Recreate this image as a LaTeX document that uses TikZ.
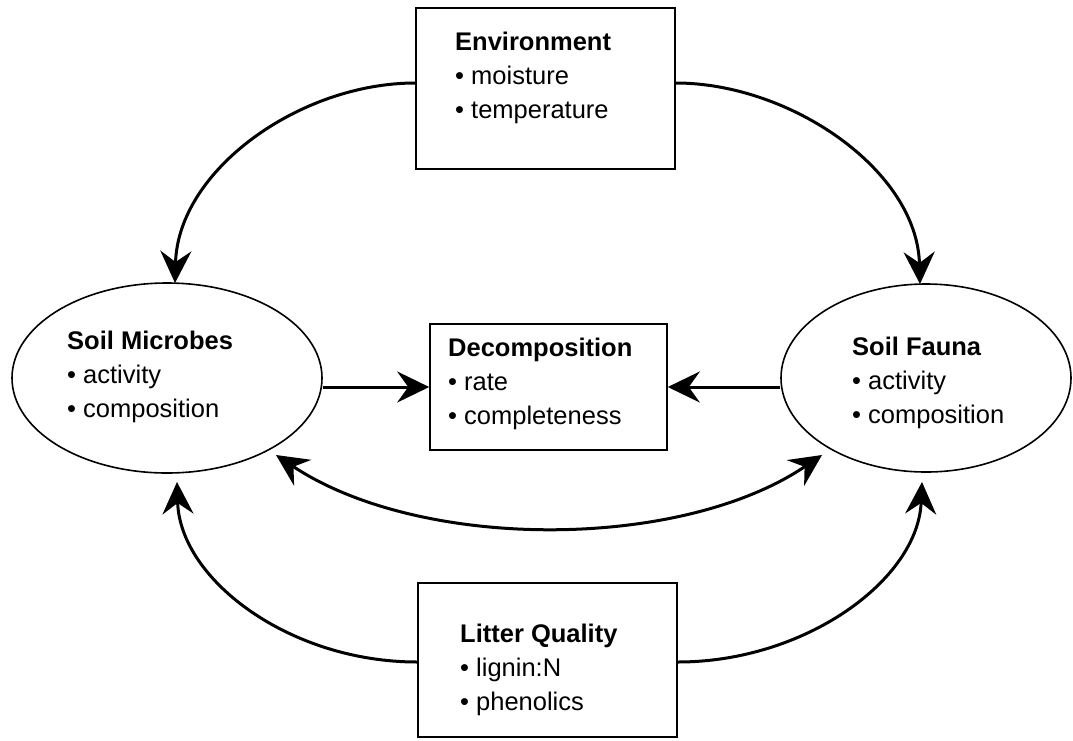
\documentclass[tikz,border=0pt]{standalone}
\usepackage{fontspec}
\setmainfont{Liberation Sans}
\usetikzlibrary{arrows.meta,calc,shapes.geometric}
\begin{document}
\begin{tikzpicture}[x=1pt,y=-1pt,
  box/.style={draw, line width=1.6pt, rectangle, inner sep=0pt},
  oval/.style={draw, line width=1.6pt, ellipse, inner sep=0pt},
  txt/.style={anchor=base west, inner sep=0pt, font=\fontsize{25.5}{34}\selectfont},
  tip/.tip={Stealth[length=32pt,width=31pt,inset=11pt]},
  conn/.style={line width=3pt, -tip},
  dconn/.style={line width=3pt, tip-tip}
]
\useasboundingbox (0,0) rectangle (1073,740);
% shapes
\node[box, minimum width=259pt, minimum height=161pt] (env) at (545.5,88.5) {};
\node[box, minimum width=237pt, minimum height=126pt] (dec) at (548.5,387) {};
\node[box, minimum width=259pt, minimum height=154pt] (lit) at (547.5,660) {};
\node[oval, minimum width=310pt, minimum height=190pt] (lmic) at (167,378) {};
\node[oval, minimum width=290pt, minimum height=188pt] (rfau) at (926,378) {};
% texts
\node[txt] (envt) at (455,50) {\begin{tabular}[t]{@{}l@{}}\textbf{Environment}\\• moisture\\• temperature\end{tabular}};
\node[txt] (dect) at (448,356) {\begin{tabular}[t]{@{}l@{}}\textbf{Decomposition}\\• rate\\• completeness\end{tabular}};
\node[txt] (litt) at (460,642) {\begin{tabular}[t]{@{}l@{}}\textbf{Litter Quality}\\• lignin:N\\• phenolics\end{tabular}};
\node[txt] (lmict) at (67,349) {\begin{tabular}[t]{@{}l@{}}\textbf{Soil Microbes}\\• activity\\• composition\end{tabular}};
\node[txt] (rfaut) at (852,355) {\begin{tabular}[t]{@{}l@{}}\textbf{Soil Fauna}\\• activity\\• composition\end{tabular}};
% connectors
\draw[conn] ($(env.west)+(0,-5.5)$) .. controls (300,83) and (178,170) .. ($(lmic.center)+(8,-95)$);
\draw[conn] ($(env.east)+(0,-5.5)$) .. controls (790,83) and (917,170) .. ($(rfau.center)+(-6,-94)$);
\draw[conn] ($(lit.west)+(0,2)$) .. controls (290,662) and (180,580) .. ($(lmic.center)+(10,104)$);
\draw[conn] ($(lit.east)+(0,2)$) .. controls (805,662) and (918,580) .. ($(rfau.center)+(-4,104)$);
\draw[conn] (dec.west -| lmic.east) -- (dec.west);
\draw[conn] (dec.east -| rfau.west) -- (dec.east);
\draw[dconn] ($(lmic.center)+(109,77)$) .. controls (420,551) and (680,551) .. ($(rfau.center)+(-104,77)$);
\end{tikzpicture}
\end{document}
